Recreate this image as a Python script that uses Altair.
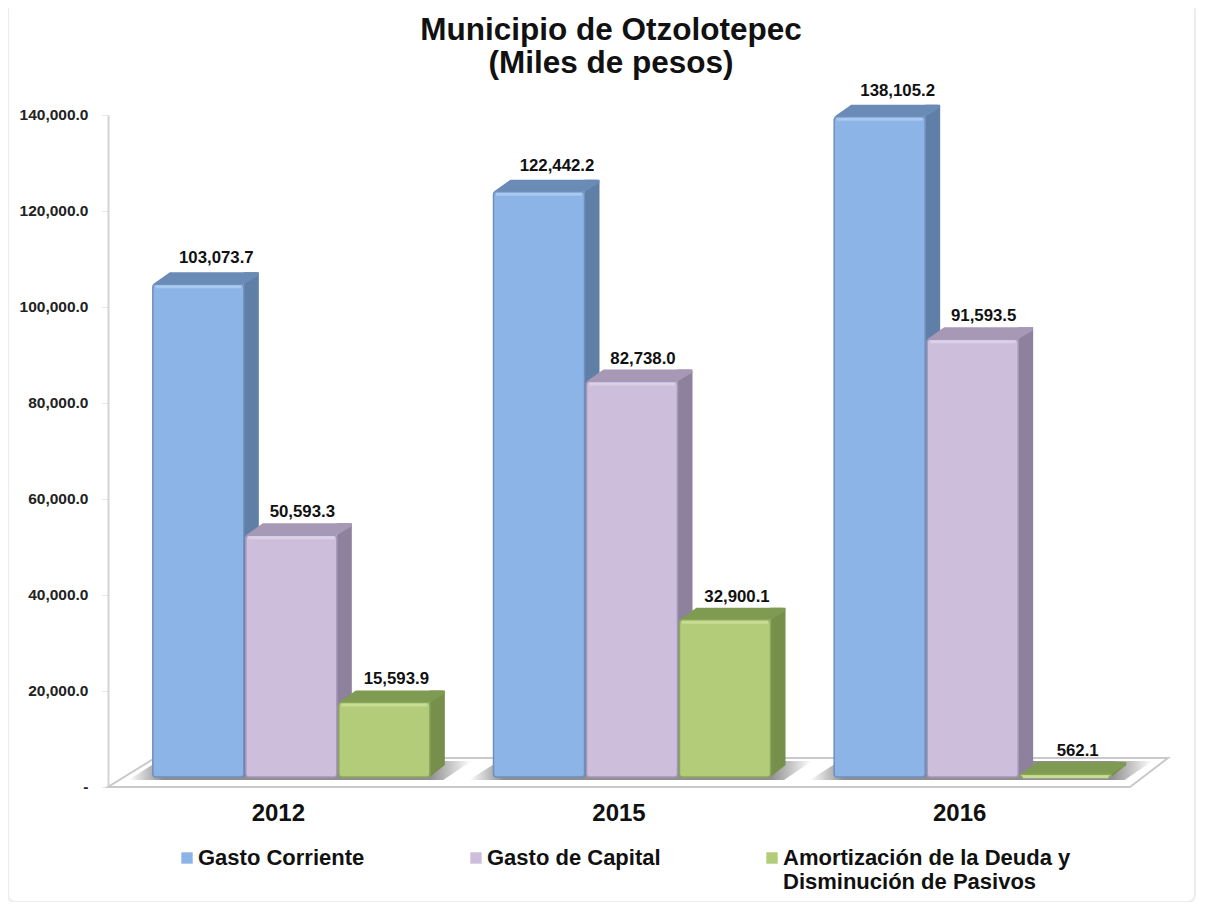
import altair as alt
import pandas as pd

years = ["2012", "2015", "2016"]
series = ["Gasto Corriente", "Gasto de Capital", "Amortización de la Deuda y Disminución de Pasivos"]
gasto_corriente = [103073.7, 122442.2, 138105.2]
gasto_capital = [50593.3, 82738.0, 91593.5]
amortizacion = [15593.9, 32900.1, 562.1]

rows = []
for s, vals in zip(series, [gasto_corriente, gasto_capital, amortizacion]):
    for y, v in zip(years, vals):
        rows.append({"year": y, "series": s, "value": v})
df = pd.DataFrame(rows)

FONT = "Liberation Sans"
front = ["#8DB4E6", "#CDBFDC", "#B2CC7A"]
side = ["#5F7FA6", "#8D819E", "#76904C"]
top = ["#6A8BB5", "#A798B6", "#7F9B52"]
edge = ["#6F8FBC", "#A597BB", "#8AA65A"]
light = ["#A9C9F0", "#DBD0E6", "#C8DD92"]
series_shift = [-80, 13, 106]
label_shift = [18, 11, 12]
label_dy = [-26, -23, -23]

W, H = 1022, 672
x_scale = alt.Scale(domain=years, paddingInner=0.18, paddingOuter=0.09)
xs = alt.X("year:N", scale=x_scale, title=None,
           axis=alt.Axis(labelAngle=0, ticks=False, domain=False, labelFont=FONT, labelFontWeight="bold",
                         labelFontSize=24, labelColor="#111111", labelPadding=14))
bar_scale = alt.Scale(domain=[-2092, 138494], nice=False, zero=False)
ys = alt.Y("value:Q", scale=bar_scale, axis=None)
y0 = alt.Y(datum=0, scale=bar_scale, axis=None)
y2 = alt.Y2(datum=0)
one = alt.Data(values=[{"a": 1}])

border = alt.Chart(one).mark_point(
    shape="M-92,-112 L1079,-112 Q1087,-112 1087,-104 L1087,779 Q1087,787 1079,787 L-92,787 Q-100,787 -100,779 L-100,-104 Q-100,-112 -92,-112 Z",
    size=4, filled=False, stroke="#EDEDED", strokeWidth=2, opacity=1,
).encode(x=alt.value(0), y=alt.value(0))

floor = alt.Chart(one).mark_point(
    shape=f"M0,0 L{W},0 L{W+38},-29 L47,-29 Z",
    size=4, filled=True, fill="#FFFFFF", stroke="#C9C9C9", strokeWidth=2, opacity=1,
).encode(x=alt.value(0), y=alt.value(H))

shadow_fill = alt.Gradient(
    gradient="linear", x1=0, x2=1, y1=0, y2=0,
    stops=[
        alt.GradientStop(color="#FFFFFF", offset=0),
        alt.GradientStop(color="#8F8F8F", offset=0.1),
        alt.GradientStop(color="#8F8F8F", offset=0.88),
        alt.GradientStop(color="#FFFFFF", offset=1),
    ],
)
shadow = alt.Chart(pd.DataFrame({"year": years})).mark_point(
    shape="M-150,3 L165,3 L193,-16 L-120,-16 Z",
    size=4, filled=True, fill=shadow_fill, strokeWidth=0, opacity=1,
).encode(x=xs, y=y0)

axes = alt.Chart(df).mark_point(opacity=0).encode(
    x=xs,
    y=alt.Y("value:Q", scale=alt.Scale(domain=[0, 140000], nice=False), title=None,
            axis=alt.Axis(values=list(range(0, 140001, 20000)),
                          labelExpr="datum.value == 0 ? '-' : format(datum.value, ',.1f')",
                          grid=False, domainColor="#D4D4D4", domainWidth=2, tickColor="#E6E6E6", tickSize=6,
                          labelFont=FONT, labelFontWeight="bold", labelFontSize=15.5, labelColor="#222222",
                          labelPadding=14, labelOffset=-1)),
)

legend_layer = alt.Chart(df).mark_square(size=0, opacity=0).encode(
    x=xs, y=ys,
    color=alt.Color("series:N",
                    scale=alt.Scale(domain=series, range=front),
                    legend=alt.Legend(
                        orient="none", legendX=68, legendY=732, direction="horizontal", columns=3,
                        title=None, symbolType="square", symbolSize=130, symbolOpacity=1,
                        symbolStrokeWidth=0, labelFont=FONT, labelFontWeight="bold", labelFontSize=22,
                        labelColor="#111111", columnPadding=100, labelOffset=0, labelLimit=400,
                        labelExpr="datum.label == 'Amortización de la Deuda y Disminución de Pasivos' ? ['Amortización de la Deuda y', 'Disminución de Pasivos'] : [datum.label, ' ']",
                    )),
)

title_lines = ["Municipio de Otzolotepec", "(Miles de pesos)"]
title_layers = [
    alt.Chart(one).mark_text(text=t, font=FONT, fontWeight="bold", fontSize=31.5, color="#111111",
                             align="center", baseline="middle")
    .encode(x=alt.value(503), y=alt.value(yy))
    for t, yy in zip(title_lines, [-84, -51])
]

layers = [border, floor, shadow, axes, legend_layer] + title_layers
BW = 45.5
D = 15
DY = 12
for i, s in enumerate(series):
    base = alt.Chart(df).transform_filter(alt.datum.series == s)
    sx = series_shift[i]
    layers.append(base.mark_bar(width=D, fill=side[i], xOffset=sx + BW + D / 2, yOffset=-DY, y2Offset=-DY, opacity=1)
                  .encode(x=xs, y=ys, y2=y2))
    layers.append(base.mark_point(shape=f"M{BW},0 L{BW+D},-{DY} L{BW},-{DY} Z", size=4, filled=True, fill=side[i],
                                  strokeWidth=0, opacity=1, xOffset=sx)
                  .encode(x=xs, y=y0))
    layers.append(base.mark_point(
        shape=f"M{-BW},0 L{BW},0 L{BW+D},-{DY-3} Q{BW+D},-{DY} {BW+D-3},-{DY} L{-BW+D+2},-{DY} Z",
        size=4, filled=True, fill=top[i], strokeWidth=0, opacity=1, xOffset=sx)
                  .encode(x=xs, y=ys))
    layers.append(base.mark_bar(width=2 * BW, fill=front[i], stroke=edge[i], strokeWidth=1.5, cornerRadius=3,
                                xOffset=sx, opacity=1)
                  .encode(x=xs, y=ys, y2=y2))
    layers.append(base.mark_point(shape=f"M{-BW+2},1 L{BW-2},1 L{BW-3},4 L{-BW+3},4 Z", size=4, filled=True,
                                  fill=light[i], strokeWidth=0, opacity=1, xOffset=sx)
                  .encode(x=xs, y=ys))
    layers.append(base.mark_text(font=FONT, fontWeight="bold", fontSize=16.8, color="#111111",
                                 dx=sx + label_shift[i], dy=label_dy[i], baseline="middle", align="center")
                  .encode(x=xs, y=ys, text=alt.Text("value:Q", format=",.1f")))

chart = alt.layer(*layers).resolve_scale(y="independent").properties(
    width=W, height=H,
    autosize=alt.AutoSizeParams(type="none"),
    padding={"left": 100, "top": 107, "right": 68, "bottom": 115},
).configure_view(stroke=None)

chart.save("out.html", embed_options={"renderer": "svg", "actions": False})
